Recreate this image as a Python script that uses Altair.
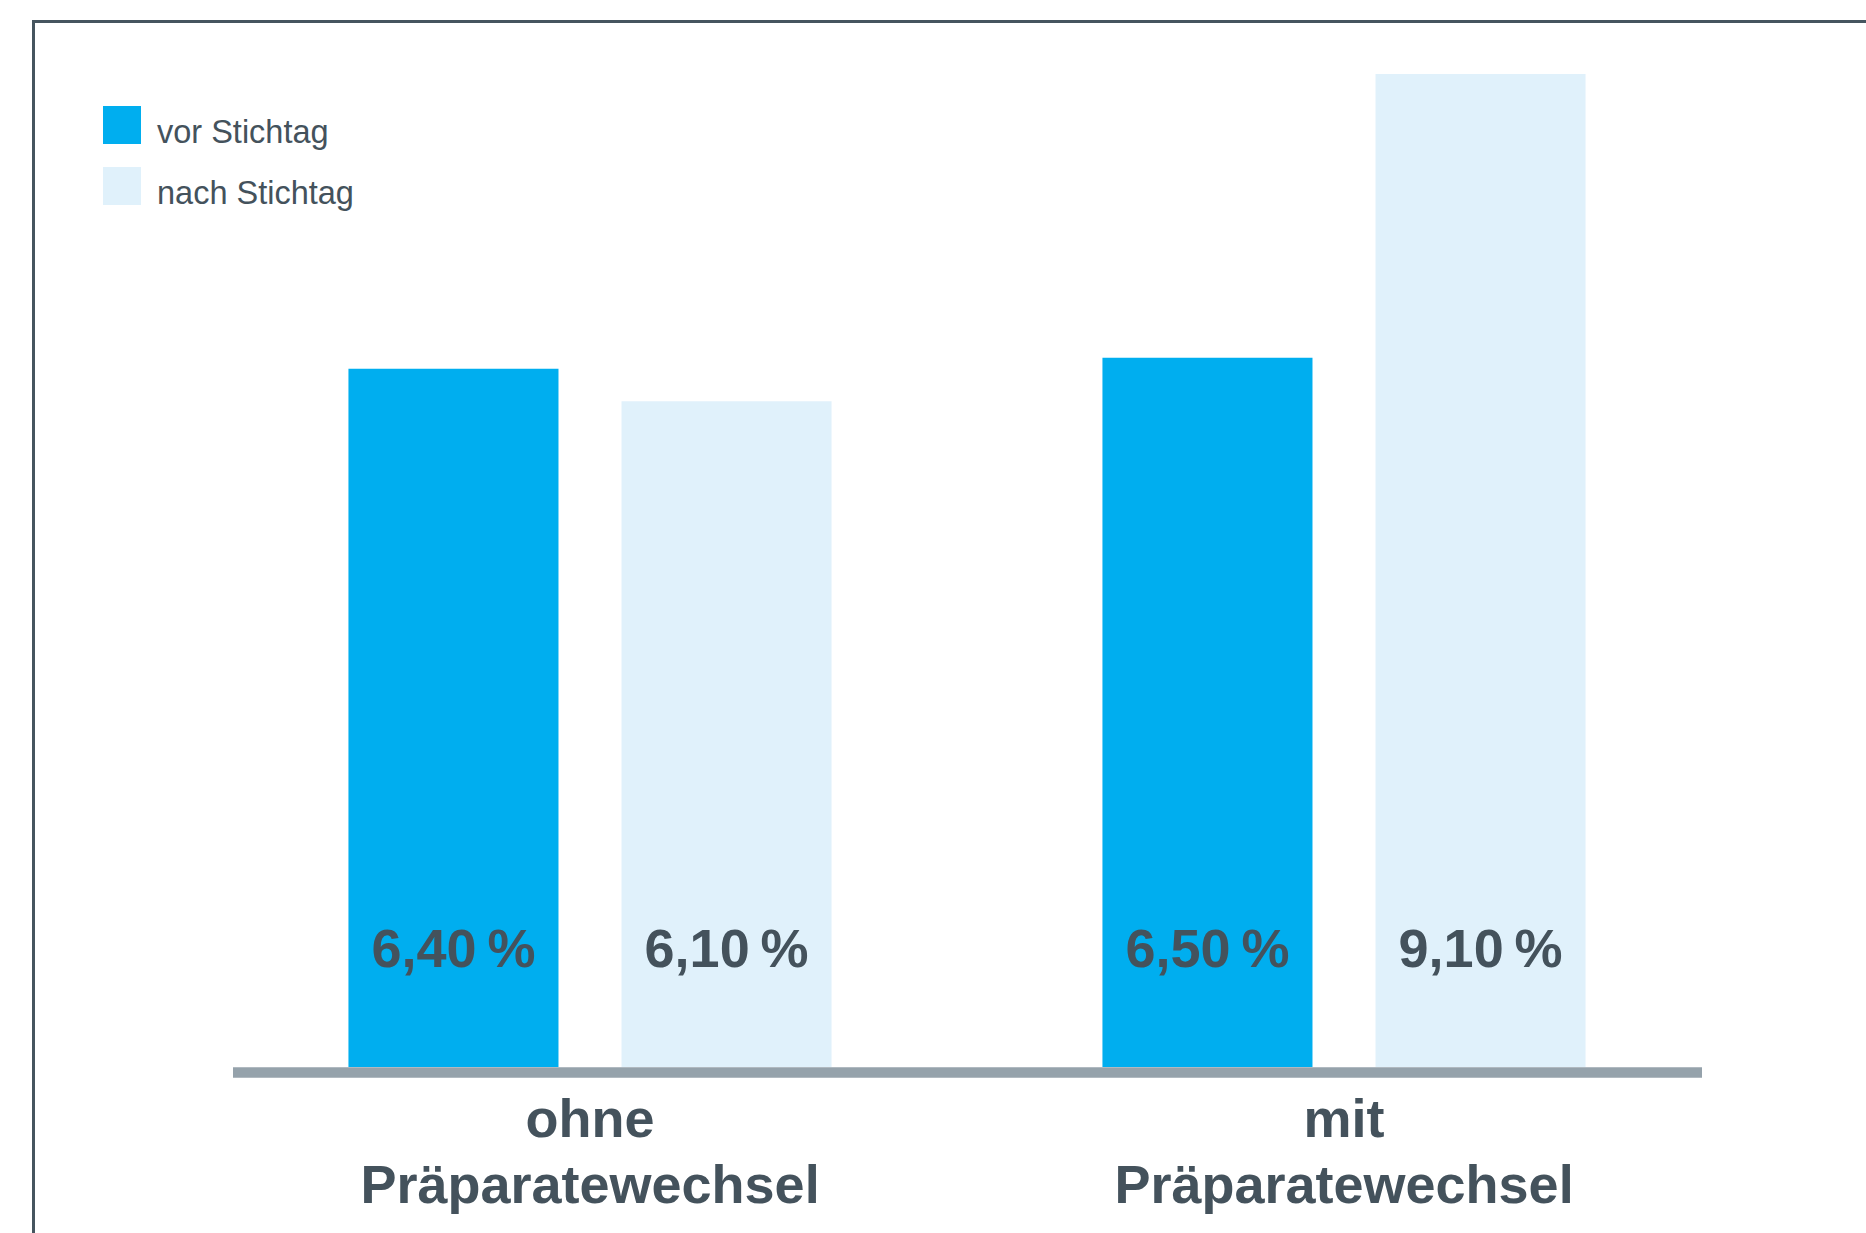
import altair as alt
import pandas as pd

# ---- data ----
categories = ["ohne", "mit"]
category_labels = ["ohne\nPräparatewechsel", "mit\nPräparatewechsel"]
series = ["vor Stichtag", "nach Stichtag"]
values_vor = [6.4, 6.5]
values_nach = [6.1, 9.1]
series_colors = ["#00aeef", "#e0f1fb"]

TEXT = "#44525c"
FONT = "Liberation Sans"

rows = []
for i, c in enumerate(categories):
    for s, vals in zip(series, [values_vor, values_nach]):
        v = vals[i]
        rows.append({"cat": c, "series": s, "value": v,
                     "label": f"{v:.2f}".replace(".", ",") + "\u2009%"})
df = pd.DataFrame(rows)
cat_df = pd.DataFrame({"cat": categories, "text": category_labels})
leg_df = pd.DataFrame({"series": series})

x_enc = alt.X("cat:N", scale=alt.Scale(domain=categories, range=[213, 1721],
                                       paddingInner=0, paddingOuter=0), axis=None)
xo_enc = alt.XOffset("series:N", scale=alt.Scale(domain=series, paddingInner=0.2308,
                                                 paddingOuter=0.496))
color_enc = alt.Color("series:N", scale=alt.Scale(domain=series, range=series_colors),
                      legend=None)

bars = alt.Chart(df).mark_bar(strokeWidth=0).encode(
    x=x_enc, xOffset=xo_enc,
    y=alt.Y("value:Q", scale=alt.Scale(domain=[0, 9.1], range=[1067, 74], nice=False,
                                       zero=True), axis=None),
    color=color_enc,
)

bar_text = alt.Chart(df).mark_text(font=FONT, fontWeight="bold", fontSize=54,
                                   color=TEXT, baseline="alphabetic", align="center").encode(
    x=x_enc, xOffset=xo_enc, y=alt.value(967), text="label:N"
)

axis_rule = alt.Chart(cat_df).mark_rule(color="#95a2ab", strokeWidth=10).encode(
    x=alt.value(233), x2=alt.value(1702), y=alt.value(1072.5)
)

cat_text = alt.Chart(cat_df).mark_text(font=FONT, fontWeight="bold", fontSize=54,
                                       color=TEXT, baseline="alphabetic", align="center",
                                       lineBreak="\n", lineHeight=66).encode(
    x=x_enc, y=alt.value(1137), text="text:N"
)

frame_top = alt.Chart(cat_df).mark_rule(color="#46555f", strokeWidth=3).encode(
    x=alt.value(32), x2=alt.value(1900), y=alt.value(21.5)
)
frame_left = alt.Chart(cat_df).mark_rule(color="#46555f", strokeWidth=3).encode(
    x=alt.value(33.5), y=alt.value(20), y2=alt.value(1300)
)

leg_y = alt.Y("series:N", scale=alt.Scale(domain=series, range=[125, 186], padding=0),
              axis=None)
leg_sq = alt.Chart(leg_df).mark_square(size=1444, opacity=1, strokeWidth=0).encode(
    x=alt.value(122), y=leg_y, color=color_enc
)
leg_txt = alt.Chart(leg_df).mark_text(font=FONT, fontSize=32.5, color=TEXT, align="left",
                                      baseline="alphabetic", dy=18).encode(
    x=alt.value(157), y=leg_y, text="series:N"
)

chart = alt.layer(
    bars, bar_text, axis_rule, cat_text, frame_top, frame_left, leg_sq, leg_txt
).resolve_scale(y="independent").properties(
    width=1866, height=1233, autosize=alt.AutoSizeParams(type="none"), padding=0,
    background="white"
).configure_view(stroke=None)

chart.save("out.html", embed_options={"renderer": "svg", "actions": False})
